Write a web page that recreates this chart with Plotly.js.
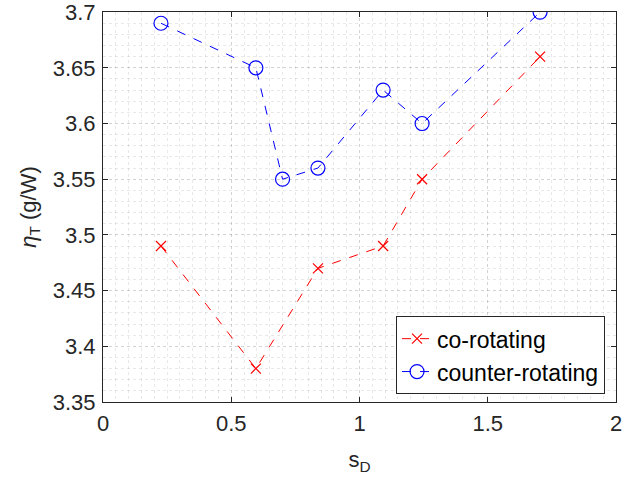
<!DOCTYPE html>
<html><head><meta charset="utf-8">
<script src="https://cdn.plot.ly/plotly-3.0.1.min.js"></script>
<style>html,body{margin:0;padding:0;background:#fff}</style>
</head><body><div id="chart" style="width:631px;height:480px"></div>
<script>
const coX = [0.226, 0.596, 0.838, 1.092, 1.244, 1.704];
const coY = [3.49, 3.38, 3.47, 3.49, 3.55, 3.66];
const counterX = [0.226, 0.596, 0.70, 0.838, 1.092, 1.244, 1.704];
const counterY = [3.69, 3.65, 3.55, 3.56, 3.63, 3.60, 3.70];
const seriesNames = ['co-rotating', 'counter-rotating'];
const xTicks = [0, 0.5, 1, 1.5, 2];
const yTicks = [3.35, 3.4, 3.45, 3.5, 3.55, 3.6, 3.65, 3.7];

const font = 'Liberation Sans, Arial, sans-serif';
const traces = [
  {x: coX, y: coY, name: seriesNames[0], mode: 'lines+markers', type: 'scatter',
   line: {color: '#ff0000', dash: 'dash', width: 1},
   marker: {symbol: 'x-thin-open', size: 10, color: '#ff0000', line: {color: '#ff0000', width: 1.2}}},
  {x: counterX, y: counterY, name: seriesNames[1], mode: 'lines+markers', type: 'scatter',
   line: {color: '#0000ff', dash: 'dash', width: 1},
   marker: {symbol: 'circle-open', size: 14, color: '#0000ff', line: {color: '#0000ff', width: 1.2}}}
];
const gridC = 'rgba(0,0,0,0.09)';
const layout = {
  width: 631, height: 480,
  margin: {l: 103, r: 15, t: 12, b: 78},
  paper_bgcolor: '#fff', plot_bgcolor: '#fff',
  font: {family: font, size: 22, color: '#262626'},
  showlegend: true,
  legend: {x: 0.9786, y: 0.02, xanchor: 'right', yanchor: 'bottom',
           bgcolor: '#fff', bordercolor: '#262626', borderwidth: 1,
           font: {family: font, size: 23, color: '#000'}, tracegroupgap: 0, itemwidth: 30},
  xaxis: {range: [0, 2], tickvals: xTicks, ticktext: xTicks.map(String),
          ticks: 'inside', ticklen: 5, tickcolor: '#262626', mirror: 'ticks',
          showline: true, linecolor: '#262626', linewidth: 1,
          showgrid: true, gridcolor: gridC, griddash: 'dot', gridwidth: 1, zeroline: false,
          minor: {dtick: 0.05, showgrid: true, gridcolor: gridC, griddash: 'dot', gridwidth: 1},
          tickfont: {size: 22, color: '#262626'}, ticklabelstandoff: 2, ticklabeloverflow: 'allow',
          title: {text: 's<sub>D</sub>', font: {size: 22, color: '#262626'}, standoff: 16}},
  yaxis: {range: [3.35, 3.7001], tickvals: yTicks, ticktext: yTicks.map(v => String(v)),
          ticks: 'inside', ticklen: 5, tickcolor: '#262626', mirror: 'ticks',
          showline: true, linecolor: '#262626', linewidth: 1,
          showgrid: true, gridcolor: gridC, griddash: 'dot', gridwidth: 1, zeroline: false,
          minor: {dtick: 0.01, showgrid: true, gridcolor: gridC, griddash: 'dot', gridwidth: 1},
          tickfont: {size: 22, color: '#262626'}, ticklabelstandoff: 2, ticklabeloverflow: 'allow',
          title: {text: '<i>\u03b7</i><sub>T</sub> (g/W)', font: {size: 22, color: '#262626'}, standoff: 10}}
};
Plotly.newPlot('chart', traces, layout, {displayModeBar: false, staticPlot: true});
</script></body></html>
